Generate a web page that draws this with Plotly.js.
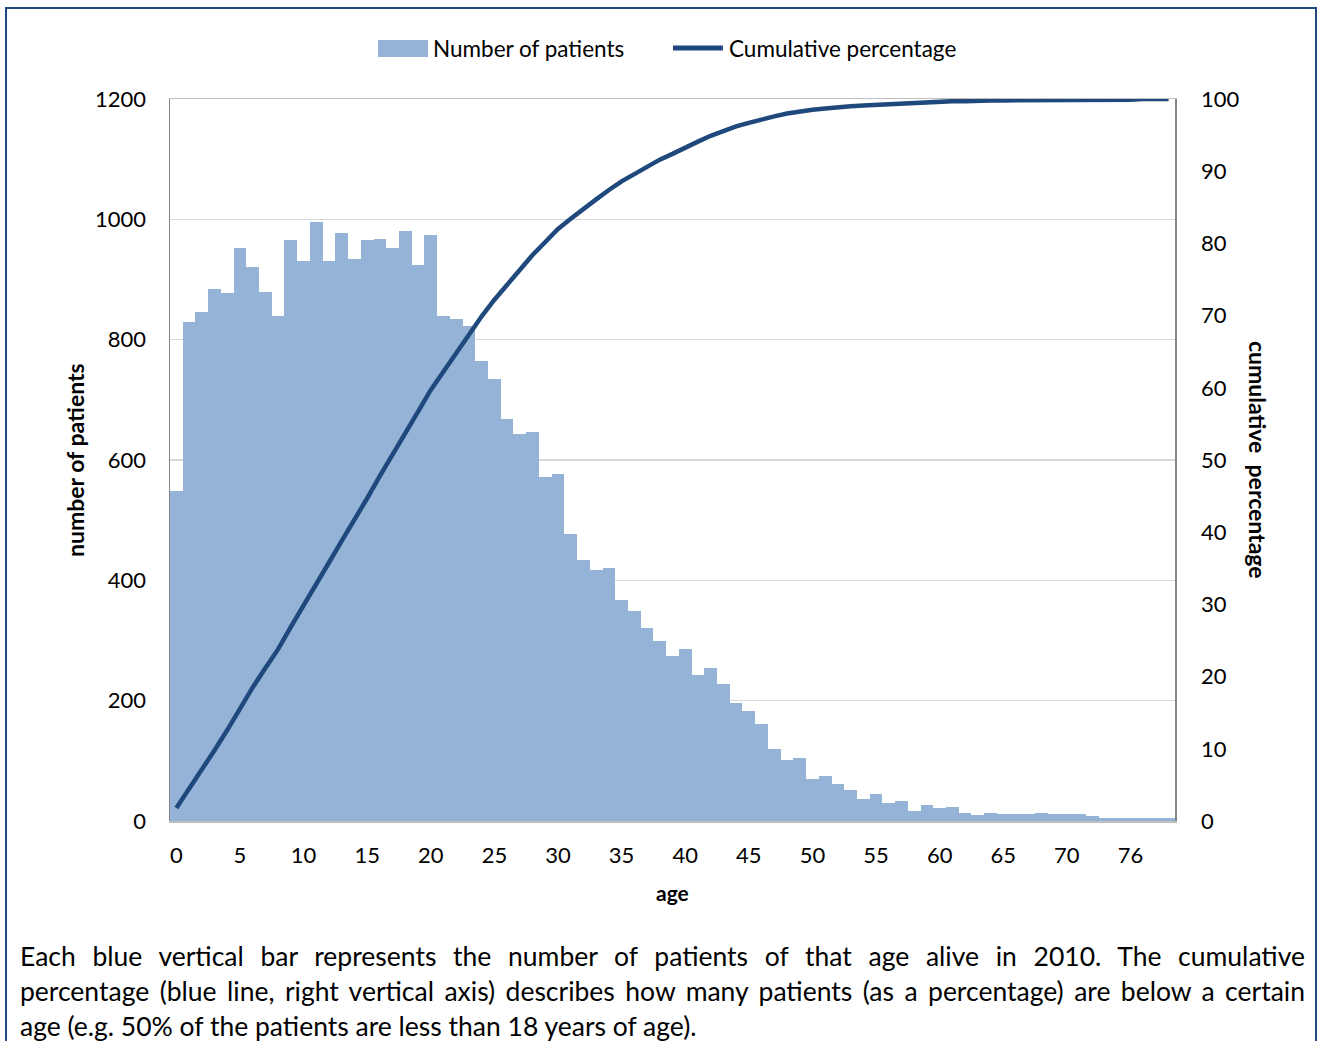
<!DOCTYPE html>
<html>
<head>
<meta charset="utf-8">
<script src="https://cdn.plot.ly/plotly-3.0.1.min.js"></script>
<style>
html,body{margin:0;padding:0;background:#ffffff;}
#wrap{position:relative;width:1319px;height:1041px;overflow:hidden;background:#ffffff;}
#chart{position:absolute;left:0;top:0;width:1319px;height:1041px;}
#frame{position:absolute;left:5px;top:7px;width:1312px;height:1100px;border:2px solid #1f497d;box-sizing:border-box;pointer-events:none;}
#caption{position:absolute;left:20px;top:939px;width:1285px;font-family:Lato,"Open Sans",sans-serif;font-size:26.5px;line-height:35px;color:#000;}
#caption div{white-space:nowrap;}
#caption .j{text-align:justify;text-align-last:justify;}
</style>
</head>
<body>
<div id="wrap">
  <div id="chart"></div>
  <div id="frame"></div>
  <div id="caption">
    <div class="j">Each blue vertical bar represents the number of patients of that age alive in 2010. The cumulative</div>
    <div class="j">percentage (blue line, right vertical axis) describes how many patients (as a percentage) are below a certain</div>
    <div>age (e.g. 50% of the patients are less than 18 years of age).</div>
  </div>
</div>
<script>
// Age categories (one age is absent between 70 and 76)
const ages = ["0","1","2","3","4","5","6","7","8","9",
  "10","11","12","13","14","15","16","17","18","19",
  "20","21","22","23","24","25","26","27","28","29",
  "30","31","32","33","34","35","36","37","38","39",
  "40","41","42","43","44","45","46","47","48","49",
  "50","51","52","53","54","55","56","57","58","59",
  "60","61","62","63","64","65","66","67","68","69",
  "70","71","72","73","74","76","77","78","79"];

// Number of patients per age
const patients = [548,830,846,884,878,952,921,880,840,965,
  931,996,931,977,934,965,968,952,980,924,
  974,840,834,822,765,734,668,643,646,571,
  577,477,434,418,421,367,349,320,299,274,
  286,243,255,227,196,183,162,120,102,105,
  70,74,61,52,36,45,30,33,17,27,
  21,23,14,10,14,11,11,11,14,11,
  11,11,8,5,5,5,5,5,5];

// Cumulative percentage per age
const cumulative = [1.8,4.4,7.0,9.8,12.6,15.6,18.5,21.2,23.8,26.9,
  29.8,32.9,35.8,38.8,41.7,44.7,47.8,50.7,53.8,56.7,
  59.7,62.3,64.9,67.5,69.9,72.2,74.3,76.4,78.4,80.2,
  82.0,83.4,84.8,86.1,87.4,88.6,89.6,90.6,91.6,92.4,
  93.3,94.1,94.9,95.6,96.2,96.7,97.2,97.6,98.0,98.3,
  98.5,98.7,98.9,99.0,99.1,99.2,99.3,99.4,99.5,99.6,
  99.6,99.7,99.7,99.8,99.8,99.8,99.8,99.8,99.8,99.8,
  99.8,99.8,99.8,99.8,99.8,99.9,100.0,100.0,100.0];

// Tick labels shown on the age axis
const ageTicks = ["0","5","10","15","20","25","30","35","40","45","50","55","60","65","70","76"];

const barColor = "#95b3d7";
const lineColor = "#1f497d";
const font = "Lato, 'Open Sans', sans-serif";

const traces = [
  {type:"bar", x:ages, y:patients, name:"Number of patients",
   marker:{color:barColor, line:{width:0}}, yaxis:"y", showlegend:false},
  {type:"scatter", mode:"lines", x:ages, y:cumulative, name:"Cumulative percentage",
   line:{color:lineColor, width:4.5}, yaxis:"y2", showlegend:false}
];

const layout = {
  width:1319, height:1041,
  margin:{l:170, r:144, t:99, b:220},
  paper_bgcolor:"rgba(0,0,0,0)", plot_bgcolor:"#ffffff",
  font:{family:font, size:22, color:"#000"},
  bargap:0,
  xaxis:{type:"category", tickmode:"array", tickvals:ageTicks, ticktext:ageTicks,
    showline:true, linecolor:"#bfbfbf", linewidth:1.5, mirror:true,
    ticks:"", ticklabelstandoff:14, showgrid:false, automargin:false,
    tickfont:{family:font, size:22, color:"#000"}},
  yaxis:{range:[0,1200], tick0:0, dtick:200, showgrid:true, gridcolor:"#d9d9d9", gridwidth:1.5,
    showline:true, linecolor:"#868686", linewidth:1.5, zeroline:false, ticks:"",
    ticklabelstandoff:18, automargin:false,
    tickfont:{family:font, size:22, color:"#000"}},
  yaxis2:{range:[0,100], tick0:0, dtick:10, overlaying:"y", side:"right", showgrid:false,
    showline:true, linecolor:"#868686", linewidth:1.5, zeroline:false, ticks:"",
    ticklabelstandoff:20, automargin:false,
    tickfont:{family:font, size:22, color:"#000"}},
  shapes:[
    {type:"rect", xref:"paper", yref:"paper", x0:0.207, x1:0.2567, y0:1.0582, y1:1.0817,
     fillcolor:barColor, line:{width:0}},
    {type:"line", xref:"paper", yref:"paper", x0:0.5005, x1:0.5502, y0:1.0706, y1:1.0706,
     line:{color:lineColor, width:5}}
  ],
  annotations:[
    {text:"Number of patients", xref:"paper", yref:"paper", x:0.2597, y:1.0706,
     xanchor:"left", yanchor:"middle", showarrow:false, font:{family:font, size:22.5, color:"#000"}},
    {text:"Cumulative percentage", xref:"paper", yref:"paper", x:0.5542, y:1.0706,
     xanchor:"left", yanchor:"middle", showarrow:false, font:{family:font, size:22.5, color:"#000"}},
    {text:"<b>age</b>", xref:"paper", yref:"paper", x:0.5, y:-0.0997,
     xanchor:"center", yanchor:"middle", showarrow:false, font:{family:font, size:21, color:"#000"}},
    {text:"<b>number of patients</b>", xref:"paper", yref:"paper", x:-0.0945, y:0.5,
     xanchor:"center", yanchor:"middle", textangle:-90, showarrow:false, font:{family:font, size:23, color:"#000"}},
    {text:"<b>cumulative  percentage</b>", xref:"paper", yref:"paper", x:1.0826, y:0.5,
     xanchor:"center", yanchor:"middle", textangle:90, showarrow:false, font:{family:font, size:23, color:"#000"}}
  ]
};

Plotly.newPlot("chart", traces, layout, {displayModeBar:false, staticPlot:true});
</script>
</body>
</html>
